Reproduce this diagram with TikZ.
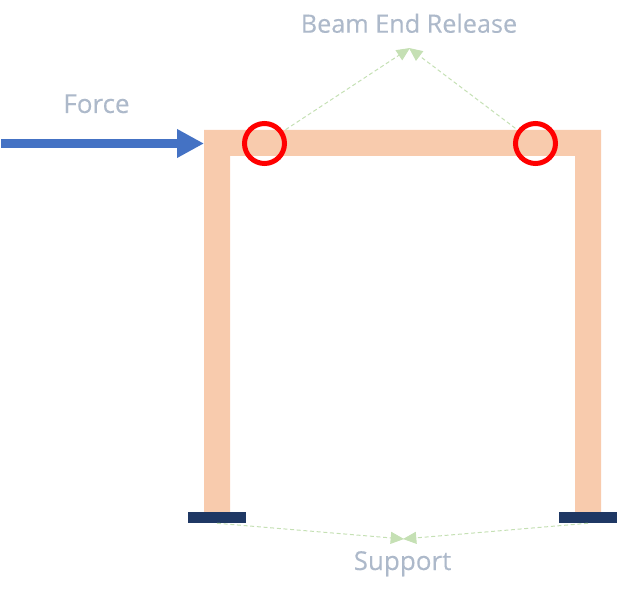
\documentclass[tikz,border=0pt]{standalone}
\usepackage{fontspec}
\setmainfont[FakeBold=0.2]{Open Sans}
\usetikzlibrary{arrows.meta}
\definecolor{frameorange}{HTML}{F8CBAD}
\definecolor{supportblue}{HTML}{1F3864}
\definecolor{forceblue}{HTML}{4472C4}
\definecolor{labelgray}{HTML}{ADB9CA}
\definecolor{leadgreen}{HTML}{C5E0B4}
\tikzset{
  release/.style={circle, draw=red, line width=3.75pt, minimum size=30pt, inner sep=0pt},
  support/.style={rectangle, fill=supportblue, minimum width=43.5pt, minimum height=8.25pt, inner sep=0pt},
  label/.style={text=labelgray, font=\fontsize{19.5}{22}\selectfont, inner sep=0pt, anchor=base},
  lead/.style={leadgreen, line width=0.75pt, dash pattern=on 3pt off 2pt, -{Triangle[length=10pt,width=9pt]}}
}
\begin{document}
\begin{tikzpicture}[x=0.75pt, y=-0.75pt]
\useasboundingbox (0, 0) rectangle (617, 591);

% 1. points
\coordinate (forcestart) at (1, 143.5);
\coordinate (forcetip) at (204, 143.5);
\coordinate (releasetipl) at (410, 48);
\coordinate (releasetipr) at (409, 48);
\coordinate (supporttipl) at (404, 539);
\coordinate (supporttipr) at (403, 539);

% 2. frame
\fill[frameorange] (204, 130) -- (601, 130) -- (601, 512) -- (575, 512) -- (575, 156)
    -- (230, 156) -- (230, 512) -- (204, 512) -- cycle;

% 3. supports and releases
\node[support] (supportl) at (217, 517.5) {};
\node[support] (supportr) at (588, 517.5) {};
\node[release] (releasel) at (264.5, 143.5) {};
\node[release] (releaser) at (535.5, 143.5) {};

% 4. labels
\node[label] (forcelabel) at (96.5, 113) {Force};
\node[label, font=\fontsize{18.9}{22}\selectfont] (releaselabel) at (409, 32.7) {Beam End Release};
\node[label] (supportlabel) at (402.5, 570) {Support};

% 5. arrows
\draw[forceblue, line width=6.75pt, -{Triangle[length=20.25pt,width=20.25pt]}] (forcestart) -- (forcetip);
\draw[lead, shorten <=2pt] (releasel) -- (releasetipl);
\draw[lead, shorten <=2pt] (releaser) -- (releasetipr);
\draw[lead] (supportl.south) -- (supporttipl);
\draw[lead] (supportr.south) -- (supporttipr);
\end{tikzpicture}
\end{document}
